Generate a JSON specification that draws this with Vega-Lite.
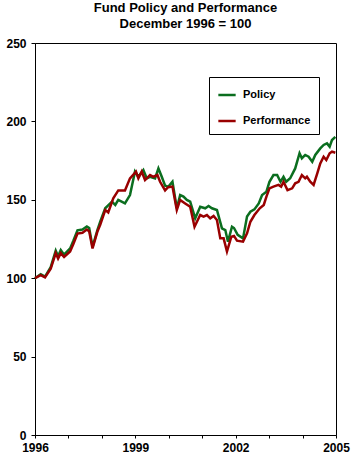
{
  "$schema": "https://vega.github.io/schema/vega-lite/v6.json",
  "width": 301,
  "height": 392,
  "autosize": "none",
  "padding": {"left": 35, "top": 43, "right": 17, "bottom": 25},
  "background": "white",
  "title": {
    "text": ["Fund Policy and Performance", "December 1996 = 100"],
    "font": "Liberation Sans",
    "fontSize": 13,
    "fontWeight": "bold",
    "color": "black",
    "anchor": "middle",
    "lineHeight": 16,
    "offset": 6
  },
  "config": {
    "view": {"stroke": "black", "strokeWidth": 1},
    "font": "Liberation Sans"
  },
  "data": {
    "values": [
      {"t": 1996.00, "s": "Policy", "v": 100},
      {"t": 1996.17, "s": "Policy", "v": 102.5},
      {"t": 1996.30, "s": "Policy", "v": 101},
      {"t": 1996.47, "s": "Policy", "v": 107},
      {"t": 1996.62, "s": "Policy", "v": 117.5},
      {"t": 1996.69, "s": "Policy", "v": 114},
      {"t": 1996.77, "s": "Policy", "v": 118},
      {"t": 1996.87, "s": "Policy", "v": 115},
      {"t": 1997.05, "s": "Policy", "v": 119},
      {"t": 1997.15, "s": "Policy", "v": 124},
      {"t": 1997.27, "s": "Policy", "v": 130.5},
      {"t": 1997.42, "s": "Policy", "v": 131},
      {"t": 1997.55, "s": "Policy", "v": 133},
      {"t": 1997.62, "s": "Policy", "v": 132},
      {"t": 1997.72, "s": "Policy", "v": 120},
      {"t": 1997.87, "s": "Policy", "v": 131},
      {"t": 1997.95, "s": "Policy", "v": 136},
      {"t": 1998.10, "s": "Policy", "v": 144.6},
      {"t": 1998.30, "s": "Policy", "v": 148.8},
      {"t": 1998.40, "s": "Policy", "v": 146.7},
      {"t": 1998.49, "s": "Policy", "v": 150},
      {"t": 1998.69, "s": "Policy", "v": 147.7},
      {"t": 1998.84, "s": "Policy", "v": 153},
      {"t": 1998.99, "s": "Policy", "v": 168},
      {"t": 1999.09, "s": "Policy", "v": 164.7},
      {"t": 1999.24, "s": "Policy", "v": 169},
      {"t": 1999.34, "s": "Policy", "v": 163.7},
      {"t": 1999.44, "s": "Policy", "v": 164.7},
      {"t": 1999.59, "s": "Policy", "v": 163.7},
      {"t": 1999.69, "s": "Policy", "v": 170},
      {"t": 1999.79, "s": "Policy", "v": 164.7},
      {"t": 1999.89, "s": "Policy", "v": 159},
      {"t": 1999.99, "s": "Policy", "v": 158.4},
      {"t": 2000.11, "s": "Policy", "v": 161.5},
      {"t": 2000.24, "s": "Policy", "v": 144.6},
      {"t": 2000.34, "s": "Policy", "v": 153},
      {"t": 2000.44, "s": "Policy", "v": 152},
      {"t": 2000.54, "s": "Policy", "v": 149.9},
      {"t": 2000.64, "s": "Policy", "v": 148.8},
      {"t": 2000.79, "s": "Policy", "v": 138.2},
      {"t": 2000.94, "s": "Policy", "v": 145.6},
      {"t": 2001.09, "s": "Policy", "v": 144.6},
      {"t": 2001.19, "s": "Policy", "v": 146},
      {"t": 2001.29, "s": "Policy", "v": 144.6},
      {"t": 2001.44, "s": "Policy", "v": 143.5},
      {"t": 2001.59, "s": "Policy", "v": 131.8},
      {"t": 2001.69, "s": "Policy", "v": 130.7},
      {"t": 2001.77, "s": "Policy", "v": 123.3},
      {"t": 2001.89, "s": "Policy", "v": 132.8},
      {"t": 2001.95, "s": "Policy", "v": 132},
      {"t": 2002.06, "s": "Policy", "v": 127.6},
      {"t": 2002.22, "s": "Policy", "v": 125.4},
      {"t": 2002.34, "s": "Policy", "v": 139.3},
      {"t": 2002.44, "s": "Policy", "v": 142.4},
      {"t": 2002.56, "s": "Policy", "v": 143.9},
      {"t": 2002.69, "s": "Policy", "v": 147.7},
      {"t": 2002.79, "s": "Policy", "v": 153},
      {"t": 2002.92, "s": "Policy", "v": 155.2},
      {"t": 2003.01, "s": "Policy", "v": 161.5},
      {"t": 2003.13, "s": "Policy", "v": 165.8},
      {"t": 2003.24, "s": "Policy", "v": 165.8},
      {"t": 2003.34, "s": "Policy", "v": 161.5},
      {"t": 2003.43, "s": "Policy", "v": 164.7},
      {"t": 2003.51, "s": "Policy", "v": 161.5},
      {"t": 2003.63, "s": "Policy", "v": 163.7},
      {"t": 2003.78, "s": "Policy", "v": 170},
      {"t": 2003.91, "s": "Policy", "v": 179.7},
      {"t": 2003.98, "s": "Policy", "v": 176.5},
      {"t": 2004.08, "s": "Policy", "v": 178.6},
      {"t": 2004.18, "s": "Policy", "v": 177.5},
      {"t": 2004.29, "s": "Policy", "v": 174.3},
      {"t": 2004.38, "s": "Policy", "v": 178.6},
      {"t": 2004.53, "s": "Policy", "v": 182.8},
      {"t": 2004.63, "s": "Policy", "v": 185},
      {"t": 2004.73, "s": "Policy", "v": 186},
      {"t": 2004.81, "s": "Policy", "v": 183.9},
      {"t": 2004.88, "s": "Policy", "v": 188.1},
      {"t": 2004.98, "s": "Policy", "v": 190.2},

      {"t": 1996.00, "s": "Performance", "v": 100},
      {"t": 1996.17, "s": "Performance", "v": 102},
      {"t": 1996.30, "s": "Performance", "v": 100.5},
      {"t": 1996.47, "s": "Performance", "v": 106},
      {"t": 1996.62, "s": "Performance", "v": 116},
      {"t": 1996.69, "s": "Performance", "v": 112.5},
      {"t": 1996.77, "s": "Performance", "v": 116},
      {"t": 1996.87, "s": "Performance", "v": 113.5},
      {"t": 1997.05, "s": "Performance", "v": 117},
      {"t": 1997.15, "s": "Performance", "v": 122},
      {"t": 1997.27, "s": "Performance", "v": 128.5},
      {"t": 1997.42, "s": "Performance", "v": 129},
      {"t": 1997.55, "s": "Performance", "v": 131},
      {"t": 1997.62, "s": "Performance", "v": 130},
      {"t": 1997.72, "s": "Performance", "v": 119},
      {"t": 1997.87, "s": "Performance", "v": 130},
      {"t": 1997.95, "s": "Performance", "v": 134},
      {"t": 1998.10, "s": "Performance", "v": 143.5},
      {"t": 1998.19, "s": "Performance", "v": 142},
      {"t": 1998.34, "s": "Performance", "v": 151},
      {"t": 1998.49, "s": "Performance", "v": 156},
      {"t": 1998.69, "s": "Performance", "v": 156},
      {"t": 1998.84, "s": "Performance", "v": 163.7},
      {"t": 1999.02, "s": "Performance", "v": 168},
      {"t": 1999.09, "s": "Performance", "v": 163.7},
      {"t": 1999.19, "s": "Performance", "v": 168},
      {"t": 1999.29, "s": "Performance", "v": 162.6},
      {"t": 1999.44, "s": "Performance", "v": 165.8},
      {"t": 1999.54, "s": "Performance", "v": 164.7},
      {"t": 1999.66, "s": "Performance", "v": 165.8},
      {"t": 1999.74, "s": "Performance", "v": 161.5},
      {"t": 1999.89, "s": "Performance", "v": 156},
      {"t": 1999.98, "s": "Performance", "v": 158},
      {"t": 2000.11, "s": "Performance", "v": 158.4},
      {"t": 2000.24, "s": "Performance", "v": 143.5},
      {"t": 2000.34, "s": "Performance", "v": 149.9},
      {"t": 2000.49, "s": "Performance", "v": 147.7},
      {"t": 2000.64, "s": "Performance", "v": 145.6},
      {"t": 2000.77, "s": "Performance", "v": 132.8},
      {"t": 2000.94, "s": "Performance", "v": 140.3},
      {"t": 2001.04, "s": "Performance", "v": 139.3},
      {"t": 2001.14, "s": "Performance", "v": 140.3},
      {"t": 2001.24, "s": "Performance", "v": 138.2},
      {"t": 2001.34, "s": "Performance", "v": 139.7},
      {"t": 2001.44, "s": "Performance", "v": 137.1},
      {"t": 2001.54, "s": "Performance", "v": 125.4},
      {"t": 2001.64, "s": "Performance", "v": 125.4},
      {"t": 2001.74, "s": "Performance", "v": 117},
      {"t": 2001.87, "s": "Performance", "v": 126.5},
      {"t": 2001.95, "s": "Performance", "v": 127},
      {"t": 2002.04, "s": "Performance", "v": 123.9},
      {"t": 2002.22, "s": "Performance", "v": 123.3},
      {"t": 2002.34, "s": "Performance", "v": 128.6},
      {"t": 2002.44, "s": "Performance", "v": 136},
      {"t": 2002.56, "s": "Performance", "v": 140.3},
      {"t": 2002.72, "s": "Performance", "v": 144.6},
      {"t": 2002.84, "s": "Performance", "v": 146.7},
      {"t": 2002.92, "s": "Performance", "v": 152},
      {"t": 2003.01, "s": "Performance", "v": 157.3},
      {"t": 2003.13, "s": "Performance", "v": 158.4},
      {"t": 2003.28, "s": "Performance", "v": 159.5},
      {"t": 2003.36, "s": "Performance", "v": 158.4},
      {"t": 2003.43, "s": "Performance", "v": 161.5},
      {"t": 2003.55, "s": "Performance", "v": 156.2},
      {"t": 2003.69, "s": "Performance", "v": 157.3},
      {"t": 2003.78, "s": "Performance", "v": 160.5},
      {"t": 2003.88, "s": "Performance", "v": 161.5},
      {"t": 2003.98, "s": "Performance", "v": 165.8},
      {"t": 2004.08, "s": "Performance", "v": 163.7},
      {"t": 2004.13, "s": "Performance", "v": 164.7},
      {"t": 2004.23, "s": "Performance", "v": 161.5},
      {"t": 2004.33, "s": "Performance", "v": 159.5},
      {"t": 2004.44, "s": "Performance", "v": 166.9},
      {"t": 2004.53, "s": "Performance", "v": 173.2},
      {"t": 2004.63, "s": "Performance", "v": 177.5},
      {"t": 2004.71, "s": "Performance", "v": 175.4},
      {"t": 2004.81, "s": "Performance", "v": 179.7},
      {"t": 2004.88, "s": "Performance", "v": 180.7},
      {"t": 2004.98, "s": "Performance", "v": 180}
    ]
  },
  "mark": {"type": "line", "strokeWidth": 2.5, "interpolate": "linear"},
  "encoding": {
    "x": {
      "field": "t",
      "type": "quantitative",
      "scale": {"domain": [1996, 2005], "nice": false, "zero": false},
      "axis": {
        "title": null,
        "values": [1996, 1997, 1998, 1999, 2000, 2001, 2002, 2003, 2004, 2005],
        "labelExpr": "(datum.value - 1996) % 3 == 0 ? format(datum.value, 'd') : ''",
        "grid": false,
        "domainColor": "black",
        "tickColor": "black",
        "tickSize": 3,
        "labelPadding": 4,
        "labelFont": "Liberation Sans",
        "labelFontSize": 12,
        "labelFontWeight": "bold",
        "labelColor": "black",
        "labelFlush": false,
        "labelOverlap": false
      }
    },
    "y": {
      "field": "v",
      "type": "quantitative",
      "scale": {"domain": [0, 250], "nice": false},
      "axis": {
        "title": null,
        "values": [0, 50, 100, 150, 200, 250],
        "grid": false,
        "domainColor": "black",
        "tickColor": "black",
        "tickSize": 4,
        "labelPadding": 5,
        "labelFont": "Liberation Sans",
        "labelFontSize": 12,
        "labelFontWeight": "bold",
        "labelColor": "black"
      }
    },
    "color": {
      "field": "s",
      "type": "nominal",
      "scale": {"domain": ["Policy", "Performance"], "range": ["#0b6e1f", "#990000"]},
      "legend": {
        "title": null,
        "orient": "none",
        "legendX": 174,
        "legendY": 34,
        "direction": "vertical",
        "strokeColor": "black",
        "fillColor": "white",
        "padding": 8,
        "symbolType": "stroke",
        "symbolSize": 300,
        "symbolStrokeWidth": 2.5,
        "labelFont": "Liberation Sans",
        "labelFontSize": 11,
        "labelFontWeight": "bold",
        "labelColor": "black",
        "labelOffset": 6,
        "rowPadding": 11
      }
    }
  }
}
